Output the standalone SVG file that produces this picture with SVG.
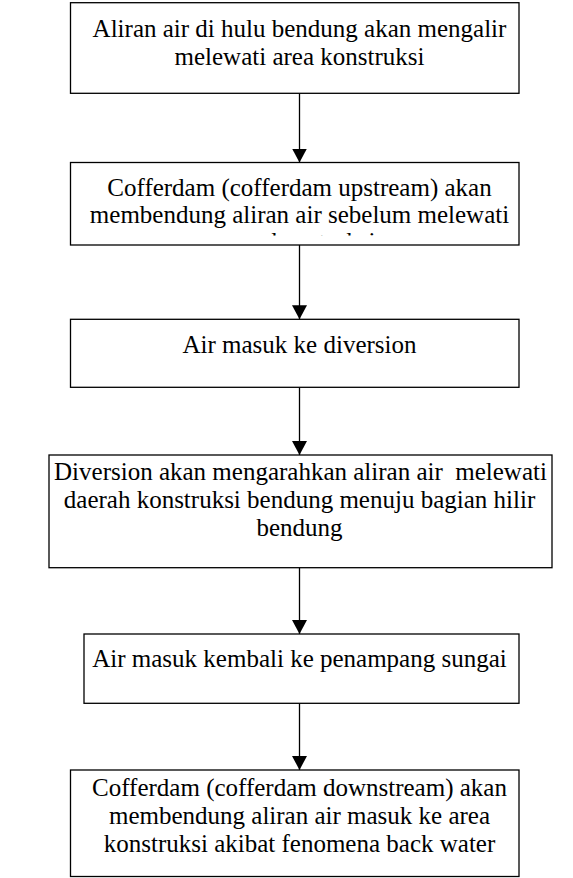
<svg xmlns="http://www.w3.org/2000/svg" width="573" height="878" viewBox="0 0 573 878">
  <style>
    .box { fill: #ffffff; stroke: #000000; stroke-width: 1.3; }
    .lbl { font-size: 25px; fill: #000000; text-anchor: middle; }
    .conn { stroke: #000000; stroke-width: 1.3; fill: none; }
  </style>
  <defs>
    <marker id="arrow" markerWidth="15" markerHeight="15" refX="14" refY="7.5" orient="auto" markerUnits="userSpaceOnUse">
      <path d="M0,0 L14,7.5 L0,15 Z" fill="#000000"/>
    </marker>
    <!-- inner text area of the second box: the third line overflows and is cut -->
    <clipPath id="clip-step2">
      <rect x="70" y="163" width="450" height="72.5"/>
    </clipPath>
  </defs>
  <rect width="573" height="878" fill="#ffffff"/>

  <g id="connectors">
    <line class="conn" x1="299.5" y1="93.3" x2="299.5" y2="162.5" marker-end="url(#arrow)"/>
    <line class="conn" x1="299.5" y1="245" x2="299.5" y2="319.3" marker-end="url(#arrow)"/>
    <line class="conn" x1="299.5" y1="387.3" x2="299.5" y2="455" marker-end="url(#arrow)"/>
    <line class="conn" x1="299.5" y1="567.7" x2="299.5" y2="634" marker-end="url(#arrow)"/>
    <line class="conn" x1="299.5" y1="703.3" x2="299.5" y2="770" marker-end="url(#arrow)"/>
  </g>

  <g font-family="'Liberation Serif', 'Times New Roman', 'DejaVu Serif', serif">
    <g id="step1">
      <rect class="box" x="70.5" y="2.7" width="448.5" height="90.6"/>
      <text class="lbl" x="299.5" y="37.3">Aliran air di hulu bendung akan mengalir</text>
      <text class="lbl" x="299.5" y="65">melewati area konstruksi</text>
    </g>

    <g id="step2">
      <rect class="box" x="70.5" y="162.5" width="448.5" height="82.5"/>
      <g clip-path="url(#clip-step2)">
        <text class="lbl" x="299.5" y="196">Cofferdam (cofferdam upstream) akan</text>
        <text class="lbl" x="299.5" y="223">membendung aliran air sebelum melewati</text>
        <text class="lbl" x="299.5" y="250">area konstruksi</text>
      </g>
    </g>

    <g id="step3">
      <rect class="box" x="70.5" y="319.3" width="448.5" height="68"/>
      <text class="lbl" x="299.5" y="353.3">Air masuk ke diversion</text>
    </g>

    <g id="step4">
      <rect class="box" x="49" y="455" width="503" height="112.7"/>
      <text class="lbl" x="300.5" y="479.5" xml:space="preserve">Diversion akan mengarahkan aliran air  melewati</text>
      <text class="lbl" x="299.5" y="508">daerah konstruksi bendung menuju bagian hilir</text>
      <text class="lbl" x="299.5" y="536">bendung</text>
    </g>

    <g id="step5">
      <rect class="box" x="84" y="634" width="435" height="69.3"/>
      <text class="lbl" x="299.5" y="667.3">Air masuk kembali ke penampang sungai</text>
    </g>

    <g id="step6">
      <rect class="box" x="70.5" y="770" width="448.5" height="106.5"/>
      <text class="lbl" x="299.5" y="796">Cofferdam (cofferdam downstream) akan</text>
      <text class="lbl" x="299.5" y="824">membendung aliran air masuk ke area</text>
      <text class="lbl" x="299.5" y="851.5">konstruksi akibat fenomena back water</text>
    </g>
  </g>
</svg>
